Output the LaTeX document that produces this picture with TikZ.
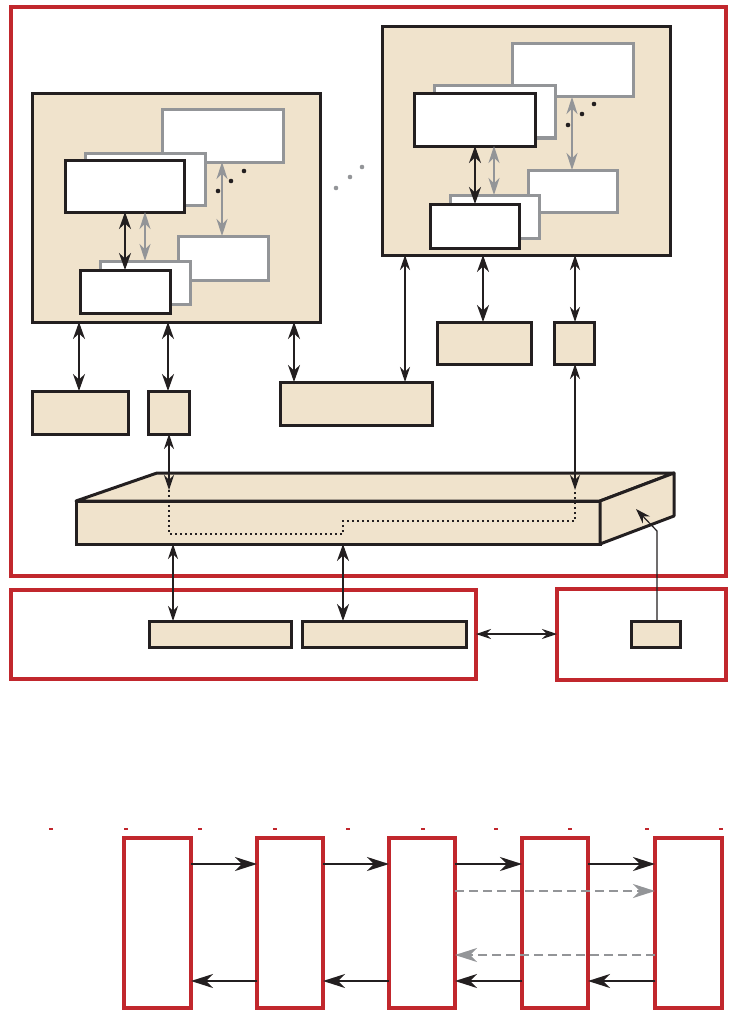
\documentclass[tikz,border=0pt]{standalone}
\usetikzlibrary{arrows.meta,fit}
\definecolor{redb}{HTML}{C1272D}
\definecolor{beige}{HTML}{F0E3CC}
\definecolor{grayb}{HTML}{939598}
\definecolor{ink}{HTML}{231F20}
\tikzset{
  tipA/.tip={Stealth[length=17pt,width=12pt,inset=5.5pt]},
  tipB/.tip={Stealth[length=15pt,width=10pt,inset=5pt]},
  tipC/.tip={Stealth[length=22pt,width=14pt,inset=7pt]},
  tipG/.tip={Stealth[length=17pt,width=11pt,inset=5.5pt]},
  redbox/.style={draw=redb,line width=4pt,inner sep=0pt,outer sep=0pt},
  blk/.style={draw=ink,fill=beige,line width=3pt,inner sep=0pt,outer sep=0pt},
  gbox/.style={draw=grayb,fill=white,line width=3pt,inner sep=0pt,outer sep=0pt},
  wbox/.style={draw=ink,fill=white,line width=3pt,inner sep=0pt,outer sep=0pt},
  dblk/.style={draw=ink,line width=2pt,arrows={tipA-tipA}},
  dthin/.style={draw=ink,line width=1.3pt,arrows={tipB-tipB}},
  dgray/.style={draw=grayb,line width=1.6pt,arrows={tipG-tipG}},
  fwd/.style={draw=ink,line width=2.2pt,arrows={-tipC}},
  gfwd/.style={draw=grayb,line width=2.5pt,dash pattern=on 9pt off 5pt,arrows={-tipC}},
  dotp/.style={draw=ink,line width=2pt,dash pattern=on 2pt off 3pt},
  dotk/.style={fill=ink},
  dotg/.style={fill=grayb},
}
\begin{document}
\begin{tikzpicture}[x=1pt,y=-1pt]
\useasboundingbox (0,0) rectangle (732,1014);

% outer red frame
\node[redbox,fit={(11,7)(726,576)}] (top) {};

% left block
\node[blk,fit={(32,94)(320,322)}] (L) {};
\node[gbox,fit={(162,110)(283,162)}] (L1) {};
\node[gbox,fit={(85,153)(205,205)}] (L2) {};
\node[wbox,fit={(65,160)(184,212)}] (L3) {};
\node[gbox,fit={(178,236)(268,280)}] (L4) {};
\node[gbox,fit={(100,261)(190,304)}] (L5) {};
\node[wbox,fit={(80,270)(170,313)}] (L6) {};
\draw[dblk] (125,0 |- L3.south) -- (125,0 |- L6.north);
\draw[dgray] (145,0 |- L3.south) -- (145,0 |- L5.north);
\draw[dgray] (222,0 |- L1.south) -- (222,0 |- L4.north);
\fill[dotk] (218,191) circle (2.3) (231,181) circle (2.3) (244,171) circle (2.3);

% gray dots between blocks
\fill[dotg] (336,188) circle (2.3) (350,177) circle (2.3) (362,167) circle (2.3);

% right block
\node[blk,fit={(382,27)(670,255)}] (R) {};
\node[gbox,fit={(512,44)(633,97)}] (R1) {};
\node[gbox,fit={(434,86)(555,138)}] (R2) {};
\node[wbox,fit={(414,94)(535,146)}] (R3) {};
\node[gbox,fit={(528,170)(617,212)}] (R4) {};
\node[gbox,fit={(450,195)(539,238)}] (R5) {};
\node[wbox,fit={(430,204)(519,248)}] (R6) {};
\draw[dblk] (475,0 |- R3.south) -- (475,0 |- R6.north);
\draw[dgray] (494,0 |- R3.south) -- (494,0 |- R5.north);
\draw[dgray] (572,0 |- R1.south) -- (572,0 |- R4.north);
\fill[dotk] (568,125) circle (2.3) (582,114) circle (2.3) (594,104) circle (2.3);

% small boxes
\node[blk,fit={(32,391)(128,434)}] (A) {};
\node[blk,fit={(148,391)(189,434)}] (B) {};
\node[blk,fit={(280,382)(432,425)}] (C) {};
\node[blk,fit={(437,322)(531,364)}] (D) {};
\node[blk,fit={(554,322)(594,364)}] (E) {};

\draw[dblk] (79,0 |- L.south) -- (79,0 |- A.north);
\draw[dblk] (168,0 |- L.south) -- (168,0 |- B.north);
\draw[dblk] (294,0 |- L.south) -- (294,0 |- C.north);
\draw[dthin] (405,0 |- R.south) -- (405,0 |- C.north);
\draw[dblk] (483,0 |- R.south) -- (483,0 |- D.north);
\draw[dthin] (575,0 |- R.south) -- (575,0 |- E.north);

% 3D bar
\node[blk,fit={(76,501)(600,544)}] (bar) {};
\draw[blk,line join=round] (bar.north west) -- (157,473) -- (674,473) -- (bar.north east) -- cycle;
\draw[blk,line join=round] (bar.north east) -- (674,473) -- (674,516) -- (bar.south east) -- cycle;
\coordinate (pL) at (169,490);
\coordinate (pR) at (575,490);
\draw[dthin] (169,0 |- B.south) -- (pL);
\draw[dthin] (575,0 |- E.south) -- (pR);
\draw[dotp] (pL) -- (169,534) -- (343,534) -- (343,521) -- (575,521) -- (pR);

% lower red boxes
\node[redbox,fit={(11,590)(476,679)}] (P) {};
\node[redbox,fit={(557,589)(726,680)}] (Q) {};
\node[blk,fit={(149,621)(291,647)}] (F1) {};
\node[blk,fit={(302,621)(466,647)}] (F2) {};
\node[blk,fit={(631,621)(680,647)}] (G) {};
\draw[dthin] (173,0 |- bar.south) -- (173,0 |- F1.north);
\draw[dblk] (343,0 |- bar.south) -- (343,0 |- F2.north);
\draw[dthin] (P.east |- 0,634) -- (Q.west |- 0,634);
\coordinate (bend) at (657,531);
\coordinate (tipR) at (636,509);
\draw[draw=ink,line width=1.2pt,arrows={-tipB}] (657,0 |- G.north) -- (bend) -- (tipR);

% bottom sequence
\foreach \i/\a/\b in {1/124/191,2/257/323,3/389/455,4/522/588,5/655/722}{
  \node[redbox,fit={(\a,838)(\b,1008)}] (S\i) {};
}
\foreach \x in {51,126,200,275,348,423,496,570,647,721}{
  \draw[redb,line width=1.3pt] (\x-2,829) -- (\x+2,829);
}
\foreach \i/\j in {1/2,2/3,3/4,4/5}{
  \draw[fwd] (S\i.east |- 0,864) -- (S\j.west |- 0,864);
  \draw[fwd] (S\j.west |- 0,981) -- (S\i.east |- 0,981);
}
\draw[gfwd] (S3.east |- 0,891) -- (S5.west |- 0,891);
\draw[gfwd] (S5.west |- 0,955) -- (S3.east |- 0,955);
\end{tikzpicture}
\end{document}
